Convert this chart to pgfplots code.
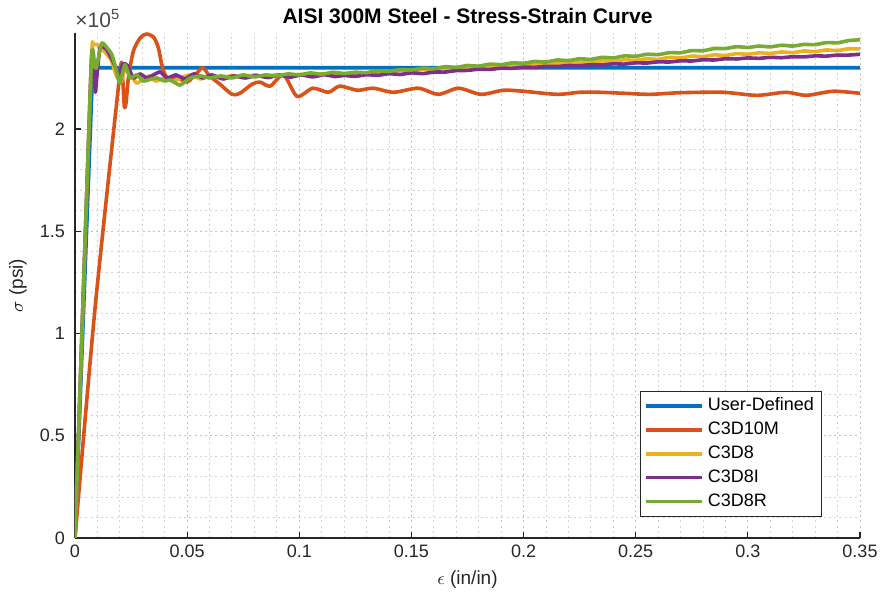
\documentclass[border=0pt]{standalone}
\usepackage{fontspec}
\setmainfont{Liberation Sans}
\usepackage{pgfplots}
\pgfplotsset{compat=1.18}
\definecolor{mblue}{rgb}{0,0.447,0.741}
\definecolor{morange}{rgb}{0.85,0.325,0.098}
\definecolor{myellow}{rgb}{0.929,0.694,0.125}
\definecolor{mpurple}{rgb}{0.494,0.184,0.556}
\definecolor{mgreen}{rgb}{0.466,0.674,0.188}
\definecolor{axgray}{rgb}{0.15,0.15,0.15}
\begin{document}
\begin{tikzpicture}
\begin{axis}[name=ax,
  scale only axis, width=392.5pt, height=252.5pt,
  xmin=0, xmax=0.35, ymin=0, ymax=2.47e5,
  axis x line*=bottom, axis y line*=left,
  axis line style={-, axgray, line width=0.6pt},
  tick align=inside, major tick length=3pt, minor tick length=0pt,
  tick style={axgray, line width=0.6pt},
  xtick={0,0.05,0.1,0.15,0.2,0.25,0.3,0.35},
  xticklabels={0,0.05,0.1,0.15,0.2,0.25,0.3,0.35},
  ytick={0,0.5e5,1e5,1.5e5,2e5},
  yticklabels={0,0.5,1,1.5,2},
  scaled x ticks=false, scaled y ticks=false,
  minor x tick num=4, minor y tick num=4,
  grid=both,
  major grid style={gray!48, line width=0.5pt, dash pattern=on 1pt off 1.6pt},
  minor grid style={gray!35, line width=0.5pt, dash pattern=on 1pt off 1.6pt},
  tick label style={font=\fontsize{9}{10}\selectfont, text=axgray},
  yticklabel style={xshift=-1.5pt},
  title={AISI 300M Steel - Stress-Strain Curve},
  every axis title/.style={at={(rel axis cs:0.5,1)}, anchor=base, yshift=4.5pt,
    font=\fontsize{10.5}{12}\selectfont\bfseries},
  xlabel={$\epsilon$ (in/in)},
  ylabel={$\sigma$ (psi)},
  every axis x label/.style={at={(rel axis cs:0.5,0)}, yshift=-21pt, anchor=center,
    font=\fontsize{9.5}{11}\selectfont, text=axgray},
  every axis y label/.style={at={(rel axis cs:0,0.5)}, xshift=-28.5pt, rotate=90, anchor=center,
    font=\fontsize{9.5}{11}\selectfont, text=axgray},
  legend style={at={(rel axis cs:0.9516,0.0416)}, anchor=south east,
    draw=axgray, fill=white, line width=0.6pt, inner xsep=2pt, inner ysep=1.5pt,
    font=\fontsize{9}{10}\selectfont,
    nodes={text height=6.5pt, text depth=1.8pt, inner sep=1.8pt}, row sep=0pt},
  legend cell align=left,
  legend image code/.code={\draw[#1] (0pt,0pt) -- (28pt,0pt);},
  every axis plot/.append style={line width=1.8pt, line join=round},
]
\addplot[mblue] coordinates {(0,0) (0.0079,2.30e5) (0.35,2.30e5)};
\addlegendentry{User-Defined}

\addplot[morange, smooth, tension=0.45] coordinates {
(0,0) (0.0089,1.12e5) (0.0198,2.25e5) (0.0207,2.29e5) (0.0213,2.24e5) (0.0220,2.11e5)
(0.0228,2.13e5) (0.0238,2.25e5) (0.0260,2.38e5) (0.0290,2.445e5) (0.0318,2.465e5)
(0.0350,2.45e5) (0.0371,2.40e5) (0.0387,2.315e5) (0.0400,2.27e5) (0.0420,2.24e5)
(0.0460,2.25e5) (0.0500,2.23e5) (0.0540,2.27e5) (0.0570,2.30e5) (0.0600,2.26e5)
(0.0646,2.22e5) (0.0700,2.17e5) (0.0735,2.175e5) (0.0790,2.22e5) (0.0825,2.23e5)
(0.0870,2.21e5) (0.0930,2.265e5) (0.0990,2.16e5) (0.1060,2.20e5) (0.1130,2.18e5)
(0.1180,2.21e5) (0.1260,2.19e5) (0.1330,2.20e5) (0.1420,2.18e5) (0.1530,2.20e5)
(0.1620,2.17e5) (0.1710,2.20e5) (0.1810,2.17e5) (0.1910,2.19e5) (0.2000,2.185e5)
(0.2150,2.17e5) (0.2250,2.18e5) (0.2340,2.18e5) (0.2450,2.175e5) (0.2564,2.17e5)
(0.2700,2.178e5) (0.2890,2.18e5) (0.3040,2.165e5) (0.3170,2.18e5) (0.3260,2.165e5)
(0.3380,2.185e5) (0.3500,2.175e5)};
\addlegendentry{C3D10M}

\addplot[myellow, smooth, tension=0.3] coordinates {
(0,0) (0.0072,2.30e5) (0.0082,2.41e5) (0.0105,2.41e5) (0.013,2.38e5) (0.016,2.34e5)
(0.0185,2.26e5) (0.0205,2.23e5) (0.0225,2.30e5) (0.025,2.26e5) (0.0275,2.225e5)
(0.030,2.24e5) (0.033,2.26e5) (0.036,2.235e5) (0.040,2.25e5) (0.044,2.235e5)
(0.048,2.255e5) (0.052,2.265e5) (0.056,2.245e5) (0.060,2.26e5) (0.065,2.25e5)
(0.070,2.262e5) (0.075,2.252e5) (0.080,2.265e5) (0.085,2.255e5) (0.090,2.266e5)
(0.095,2.258e5) (0.100,2.268e5) (0.105,2.26e5) (0.110,2.27e5) (0.115,2.263e5)
(0.120,2.268e5) (0.125,2.274e5) (0.130,2.272e5) (0.135,2.28e5) (0.140,2.278e5)
(0.145,2.286e5) (0.150,2.284e5) (0.155,2.292e5) (0.160,2.288e5) (0.165,2.297e5)
(0.170,2.294e5) (0.175,2.302e5) (0.180,2.300e5) (0.185,2.308e5) (0.190,2.306e5)
(0.195,2.314e5) (0.200,2.311e5) (0.205,2.319e5) (0.210,2.316e5) (0.215,2.323e5)
(0.220,2.320e5) (0.225,2.328e5) (0.230,2.325e5) (0.235,2.334e5) (0.240,2.331e5)
(0.245,2.339e5) (0.250,2.336e5) (0.255,2.344e5) (0.260,2.341e5) (0.265,2.351e5)
(0.270,2.348e5) (0.275,2.357e5) (0.280,2.354e5) (0.285,2.363e5) (0.290,2.360e5)
(0.295,2.369e5) (0.300,2.366e5) (0.305,2.373e5) (0.310,2.370e5) (0.315,2.377e5)
(0.320,2.374e5) (0.325,2.382e5) (0.330,2.379e5) (0.335,2.387e5) (0.340,2.384e5)
(0.345,2.393e5) (0.350,2.392e5)};
\addlegendentry{C3D8}

\addplot[mpurple, smooth, tension=0.3] coordinates {
(0,0) (0.0072,2.30e5) (0.0086,2.30e5) (0.0091,2.18e5) (0.0096,2.24e5) (0.0112,2.40e5)
(0.014,2.39e5) (0.017,2.33e5) (0.0195,2.27e5) (0.0215,2.32e5) (0.0235,2.31e5)
(0.026,2.25e5) (0.029,2.27e5) (0.032,2.25e5) (0.035,2.265e5) (0.038,2.28e5)
(0.041,2.25e5) (0.045,2.265e5) (0.049,2.245e5) (0.053,2.27e5) (0.057,2.25e5)
(0.061,2.265e5) (0.066,2.245e5) (0.071,2.26e5) (0.076,2.25e5) (0.081,2.262e5)
(0.086,2.252e5) (0.091,2.264e5) (0.096,2.254e5) (0.101,2.265e5) (0.106,2.255e5)
(0.111,2.266e5) (0.116,2.257e5) (0.120,2.262e5) (0.125,2.258e5) (0.130,2.266e5)
(0.135,2.263e5) (0.140,2.271e5) (0.145,2.267e5) (0.150,2.275e5) (0.155,2.271e5)
(0.160,2.279e5) (0.165,2.279e5) (0.170,2.286e5) (0.175,2.287e5) (0.180,2.293e5)
(0.185,2.292e5) (0.190,2.298e5) (0.195,2.297e5) (0.200,2.303e5) (0.205,2.302e5)
(0.210,2.307e5) (0.215,2.306e5) (0.220,2.311e5) (0.225,2.310e5) (0.230,2.315e5)
(0.235,2.314e5) (0.240,2.319e5) (0.245,2.318e5) (0.250,2.324e5) (0.255,2.323e5)
(0.260,2.329e5) (0.265,2.328e5) (0.270,2.334e5) (0.275,2.333e5) (0.280,2.339e5)
(0.285,2.338e5) (0.290,2.344e5) (0.295,2.343e5) (0.300,2.348e5) (0.305,2.346e5)
(0.310,2.351e5) (0.315,2.349e5) (0.320,2.354e5) (0.325,2.353e5) (0.330,2.358e5)
(0.335,2.357e5) (0.340,2.362e5) (0.345,2.362e5) (0.350,2.366e5)};
\addlegendentry{C3D8I}

\addplot[mgreen, smooth, tension=0.3] coordinates {
(0,0) (0.0072,2.30e5) (0.0085,2.31e5) (0.0095,2.30e5) (0.0119,2.42e5) (0.0141,2.40e5)
(0.0164,2.365e5) (0.0186,2.28e5) (0.0200,2.225e5) (0.0223,2.315e5) (0.0245,2.25e5)
(0.0275,2.265e5) (0.0305,2.235e5) (0.034,2.245e5) (0.0365,2.25e5) (0.040,2.235e5)
(0.0425,2.24e5) (0.0468,2.215e5) (0.0513,2.25e5) (0.056,2.26e5) (0.060,2.25e5)
(0.065,2.26e5) (0.070,2.25e5) (0.075,2.265e5) (0.080,2.255e5) (0.085,2.265e5)
(0.090,2.26e5) (0.095,2.27e5) (0.100,2.265e5) (0.105,2.275e5) (0.110,2.268e5)
(0.115,2.278e5) (0.120,2.272e5) (0.125,2.278e5) (0.130,2.276e5) (0.135,2.285e5)
(0.140,2.282e5) (0.145,2.291e5) (0.150,2.289e5) (0.155,2.298e5) (0.160,2.295e5)
(0.165,2.305e5) (0.170,2.302e5) (0.175,2.311e5) (0.180,2.308e5) (0.185,2.318e5)
(0.190,2.315e5) (0.195,2.324e5) (0.200,2.322e5) (0.205,2.331e5) (0.210,2.328e5)
(0.215,2.338e5) (0.220,2.335e5) (0.225,2.344e5) (0.230,2.341e5) (0.235,2.351e5)
(0.240,2.348e5) (0.245,2.358e5) (0.250,2.356e5) (0.255,2.366e5) (0.260,2.364e5)
(0.265,2.374e5) (0.270,2.373e5) (0.275,2.384e5) (0.280,2.383e5) (0.285,2.394e5)
(0.290,2.394e5) (0.295,2.403e5) (0.300,2.399e5) (0.305,2.406e5) (0.310,2.402e5)
(0.315,2.410e5) (0.320,2.406e5) (0.325,2.414e5) (0.330,2.413e5) (0.335,2.423e5)
(0.340,2.422e5) (0.345,2.433e5) (0.350,2.437e5)};
\addlegendentry{C3D8R}
\end{axis}
\node[anchor=south west, inner sep=0pt, text=axgray!85, font=\fontsize{10.5}{11}\selectfont]
  at ([yshift=2.5pt]ax.north west) {×10\textsuperscript{5}};
\pgfresetboundingbox
\path[use as bounding box] ([shift={(-37.5pt,-33pt)}]ax.south west) rectangle ([shift={(11pt,16.5pt)}]ax.north east);
\end{tikzpicture}
\end{document}
